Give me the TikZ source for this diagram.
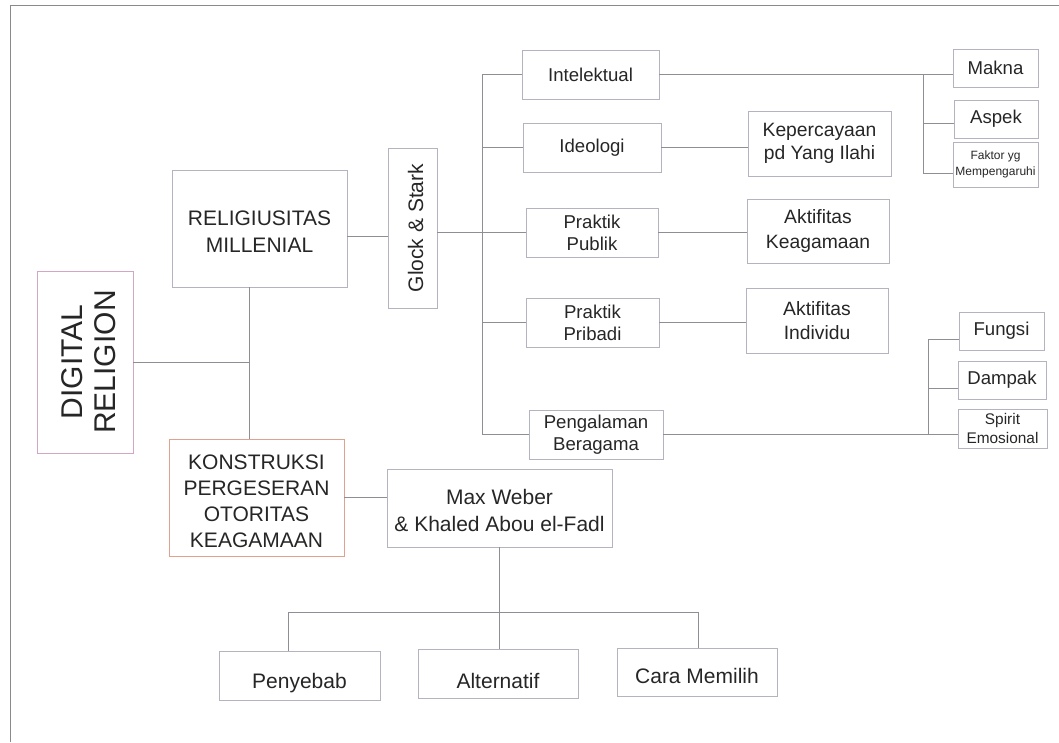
\documentclass[tikz,border=0pt]{standalone}
\usepackage{fontspec}
\setmainfont{Liberation Sans}
\usepackage{graphicx}
\definecolor{boxc}{HTML}{B4B4C0}
\definecolor{linec}{HTML}{8E8E94}
\definecolor{drc}{HTML}{D2A6C4}
\definecolor{ksc}{HTML}{E2A090}
\definecolor{txt}{HTML}{262626}
\definecolor{framec}{HTML}{8A8A8A}
\newcommand\fsz[2]{\fontsize{#1pt}{#2pt}\selectfont}
\newcommand\lowerby[2]{\raisebox{-#1}[\height][\depth]{#2}}
\begin{document}
\begin{tikzpicture}[x=1pt,y=-1pt,
  box/.style={draw=boxc, line width=0.9pt, inner sep=0pt, align=center, text=txt},
  big/.style={font=\fsz{21}{26.5}},
  mid/.style={font=\fsz{18.6}{22}},
  link/.style={draw=linec, line width=0.9pt}]
\useasboundingbox (0,0) rectangle (1059,742);
% frame
\draw[framec, line width=1pt] (1059,5) -- (10,5) -- (10,742);

% nodes
\node[box, draw=drc, minimum width=96, minimum height=182, font=\fsz{30}{33}] (dr) at (85,362)
  {\hspace*{14pt}\rotatebox{90}{\begin{tabular}{@{}c@{}}DIGITAL\\RELIGION\end{tabular}}};
\node[box, big, minimum width=175, minimum height=117] (rm) at (259.5,228.5)
  {\lowerby{5pt}{\begin{tabular}{@{}c@{}}RELIGIUSITAS\\MILLENIAL\end{tabular}}};
\node[box, draw=ksc, font=\fsz{21}{26}, minimum width=175, minimum height=117] (ks) at (256.5,497.5)
  {\lowerby{6pt}{\begin{tabular}{@{}c@{}}KONSTRUKSI\\PERGESERAN\\OTORITAS\\KEAGAMAAN\end{tabular}}};
\node[box, big, minimum width=49, minimum height=160] (gs) at (412.5,228) {\hspace*{6pt}\rotatebox{90}{Glock \& Stark}};
\node[box, font=\fsz{21}{27}, minimum width=225, minimum height=78] (mw) at (499.5,508)
  {\lowerby{5pt}{\begin{tabular}{@{}c@{}}Max Weber\\\& Khaled Abou el-Fadl\end{tabular}}};
\node[box, big, minimum width=161, minimum height=49] (pe) at (299.5,675.5) {\lowerby{8pt}{Penyebab}};
\node[box, big, minimum width=160, minimum height=49] (al) at (498,673.5) {\lowerby{7pt}{Alternatif}};
\node[box, big, minimum width=160, minimum height=48] (cm) at (697,672) {\lowerby{4pt}{Cara Memilih}};

\node[box, mid, minimum width=137, minimum height=49] (in) at (590.5,74.5) {Intelektual};
\node[box, mid, minimum width=138, minimum height=49] (id) at (592,147.5) {Ideologi};
\node[box, mid, minimum width=132, minimum height=49] (pp) at (592,232.5) {Praktik\\Publik};
\node[box, mid, minimum width=133, minimum height=49] (pr) at (592.5,322.5) {Praktik\\Pribadi};
\node[box, mid, minimum width=134, minimum height=49] (pg) at (596,434.5) {Pengalaman\\Beragama};

\node[box, font=\fsz{19.3}{23.5}, minimum width=143, minimum height=65] (kp) at (819.5,143.5) {Kepercayaan\\pd Yang Ilahi};
\node[box, font=\fsz{19.3}{24.5}, minimum width=142, minimum height=64] (ak) at (818,231) {Aktifitas\\Keagamaan};
\node[box, font=\fsz{19.3}{24.5}, minimum width=142, minimum height=65] (ai) at (817,320.5) {Aktifitas\\Individu};

\node[box, mid, minimum width=85, minimum height=38] (mk) at (995.5,68) {Makna};
\node[box, mid, minimum width=84, minimum height=38] (as) at (996,119) {Aspek};
\node[box, font=\fsz{12}{16}, minimum width=85, minimum height=45] (fk) at (995.5,164.5) {Faktor yg\\Mempengaruhi};
\node[box, mid, minimum width=85, minimum height=38] (fu) at (1001.5,331) {Fungsi};
\node[box, mid, minimum width=88, minimum height=38] (dp) at (1002,380) {Dampak};
\node[box, font=\fsz{15.4}{19}, minimum width=89, minimum height=39] (se) at (1002.5,428.5) {Spirit\\Emosional};

% junction coordinates
\coordinate (j1) at (249,362);
\coordinate (yA) at (0,236);
\coordinate (bx) at (482,0);
\coordinate (mx) at (923,0);
\coordinate (sx) at (928,0);
\coordinate (jb) at (499.5,612);
\coordinate (jp) at (288,612);
\coordinate (jc) at (698,612);

% left part
\draw[link] (dr.east) -- (j1);
\draw[link] (j1 |- rm.south) -- (j1 |- ks.north);
\draw[link] (rm.east |- yA) -- (gs.west |- yA);
\draw[link] (gs.east |- pp.west) -- (pp.west);

% Glock & Stark bus
\draw[link] (bx |- in.west) -- (bx |- pg.west);
\draw[link] (bx |- in.west) -- (in.west);
\draw[link] (bx |- id.west) -- (id.west);
\draw[link] (bx |- pr.west) -- (pr.west);
\draw[link] (bx |- pg.west) -- (pg.west);

% second level
\draw[link] (in.east) -- (in.east -| mk.west);
\draw[link] (id.east) -- (id.east -| kp.west);
\draw[link] (pp.east) -- (pp.east -| ak.west);
\draw[link] (pr.east) -- (pr.east -| ai.west);
\draw[link] (pg.east) -- (pg.east -| se.west);

% Intelektual sub-bus
\coordinate (ja) at (923,123);
\coordinate (jf) at (923,173);
\draw[link] (mx |- in.east) -- (jf);
\draw[link] (ja) -- (ja -| as.west);
\draw[link] (jf) -- (jf -| fk.west);

% Pengalaman sub-bus
\coordinate (ju) at (928,339);
\coordinate (jd) at (928,388);
\draw[link] (ju) -- (sx |- pg.east);
\draw[link] (ju) -- (ju -| fu.west);
\draw[link] (jd) -- (jd -| dp.west);

% Max Weber part
\draw[link] (ks.east) -- (ks.east -| mw.west);
\draw[link] (mw.south) -- (jb);
\draw[link] (jp) -- (jc);
\draw[link] (jp) -- (jp |- pe.north);
\draw[link] (jb) -- (jb |- al.north);
\draw[link] (jc) -- (jc |- cm.north);
\end{tikzpicture}
\end{document}
